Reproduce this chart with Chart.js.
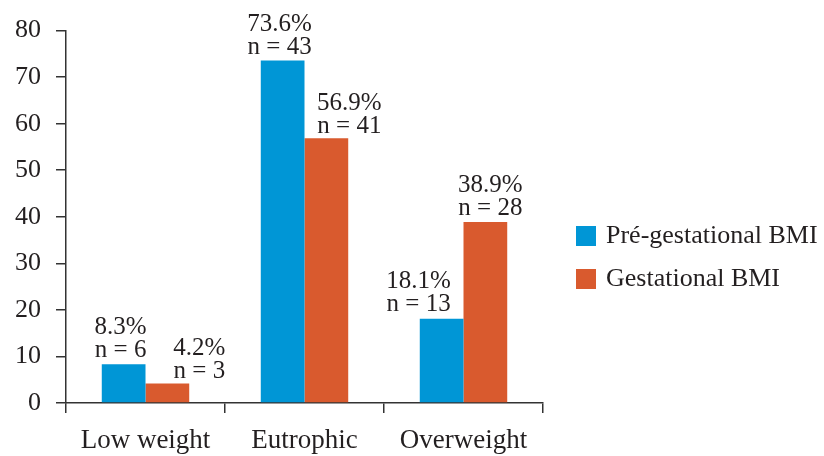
<!DOCTYPE html>
<html lang="en">
<head>
  <meta charset="UTF-8" />
  <title>BMI groups</title>
  <script src="https://cdn.jsdelivr.net/npm/chart.js@4"></script>
  <style>
    body { margin: 0; background: #fff; }
    #wrap { width: 824px; height: 456px; }
  </style>
</head>
<body>
<div id="wrap"><canvas id="bmiChart" width="824" height="456"></canvas></div>
<script>
  // chart data
  const categories = ['Low weight', 'Eutrophic', 'Overweight'];
  const preGestational = [8.3, 73.6, 18.1];
  const gestational = [4.2, 56.9, 38.9];
  const nPre = [6, 43, 13];
  const nGest = [3, 41, 28];
  const yTicks = [0, 10, 20, 30, 40, 50, 60, 70, 80];

  const ink = '#231f20';
  const serif = "'Liberation Serif', 'DejaVu Serif', serif";

  // two-line labels above each bar
  const barLabels = {
    id: 'barLabels',
    afterDatasetsDraw(chart, args, opts) {
      const ctx = chart.ctx;
      ctx.save();
      ctx.fillStyle = ink;
      ctx.font = '25px ' + serif;
      ctx.textAlign = 'center';
      ctx.textBaseline = 'alphabetic';
      chart.data.datasets.forEach((ds, di) => {
        const meta = chart.getDatasetMeta(di);
        meta.data.forEach((bar, i) => {
          const x = bar.x + opts.shiftX[di][i];
          const y = bar.y - opts.gap[di][i];
          ctx.fillText(ds.data[i].toFixed(1) + '%', x, y - 23);
          ctx.fillText('n = ' + ds.counts[i], x, y);
        });
      });
      ctx.restore();
    }
  };

  // legend on the right, drawn by hand to place it like the original
  const sideLegend = {
    id: 'sideLegend',
    afterDraw(chart) {
      const ctx = chart.ctx;
      ctx.save();
      ctx.font = '26px ' + serif;
      ctx.textBaseline = 'middle';
      chart.data.datasets.forEach((ds, i) => {
        const cy = 236 + i * 43;
        ctx.fillStyle = ds.backgroundColor;
        ctx.fillRect(576, cy - 10, 20, 20);
        ctx.fillStyle = ink;
        ctx.fillText(ds.label, 606, cy);
      });
      ctx.restore();
    }
  };

  new Chart(document.getElementById('bmiChart'), {
    type: 'bar',
    data: {
      labels: categories,
      datasets: [
        {
          label: 'Pré-gestational BMI',
          data: preGestational,
          counts: nPre,
          backgroundColor: '#0096d6',
          categoryPercentage: 0.55,
          barPercentage: 1
        },
        {
          label: 'Gestational BMI',
          data: gestational,
          counts: nGest,
          backgroundColor: '#d95a2e',
          categoryPercentage: 0.55,
          barPercentage: 1
        }
      ]
    },
    options: {
      responsive: false,
      animation: false,
      layout: { padding: { top: 27, left: 0, right: 281, bottom: 0 } },
      scales: {
        x: {
          afterFit(scale) { scale.height = 53; },
          grid: { display: true, drawOnChartArea: false, drawTicks: true, tickLength: 10, color: '#333', lineWidth: 1.5, offset: true },
          border: { color: '#333', width: 1.5 },
          ticks: { color: ink, font: { family: serif, size: 27 }, padding: 12 }
        },
        y: {
          min: 0,
          max: 80,
          afterFit(scale) { scale.width = 66; },
          afterBuildTicks(scale) { scale.ticks = yTicks.map(v => ({ value: v })); },
          grid: { display: true, drawOnChartArea: false, drawTicks: true, tickLength: 10, color: '#333', lineWidth: 1.5 },
          border: { color: '#333', width: 1.5 },
          ticks: { color: ink, font: { family: serif, size: 26 }, padding: 15 }
        }
      },
      plugins: {
        legend: { display: false },
        tooltip: { enabled: false },
        barLabels: {
          shiftX: [[-3, -3, -23], [32, 23, 5]],
          gap: [[7, 6, 8], [5, 5, 7]]
        }
      }
    },
    plugins: [barLabels, sideLegend]
  });
</script>
</body>
</html>
